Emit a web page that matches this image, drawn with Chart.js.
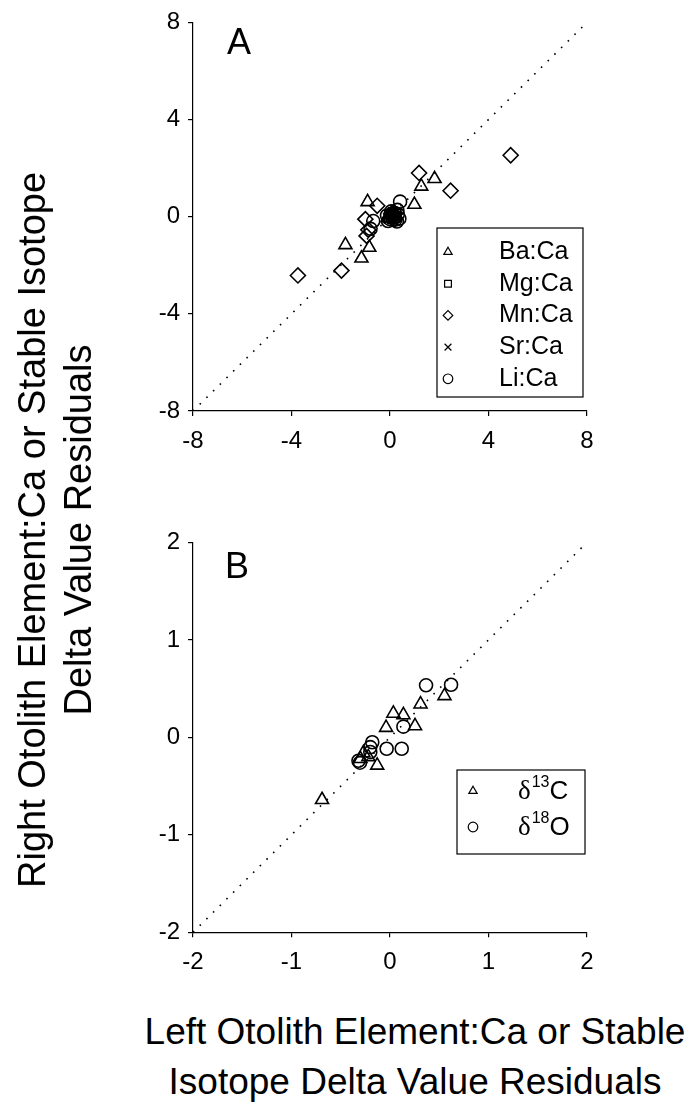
<!DOCTYPE html>
<html><head><meta charset="utf-8">
<script src="https://cdn.jsdelivr.net/npm/chart.js@4.4.1/dist/chart.umd.min.js"></script>
<style>
body{margin:0;background:#fff;width:690px;height:1106px;position:relative;overflow:hidden;font-family:"Liberation Sans",Arial,sans-serif;color:#000;}
#ca{position:absolute;left:0;top:0;}
#cb{position:absolute;left:0;top:520px;}
.yt{position:absolute;left:55px;top:530px;transform:translate(-50%,-50%) rotate(-90deg);white-space:nowrap;text-align:center;font-size:38px;line-height:46px;}
.xt{position:absolute;left:415px;top:1057px;transform:translate(-50%,-50%);text-align:center;font-size:37px;line-height:50px;white-space:nowrap;}
</style></head>
<body>
<canvas id="ca" width="690" height="470"></canvas>
<canvas id="cb" width="690" height="480"></canvas>
<div class="yt">Right Otolith Element:Ca or Stable Isotope<br>Delta Value Residuals</div>
<div class="xt">Left Otolith Element:Ca or Stable<br>Isotope Delta Value Residuals</div>
<script>
// ---- Panel A data (left residual, right residual) ----
const baCa = [[1.81,1.56],[1.27,1.25],[0.99,0.50],[-0.91,0.61],[-1.81,-1.16],[-0.84,-1.27],[-1.16,-1.71],[0.10,0.10],[-0.10,-0.05],[0.25,0.05]];
const mgCa = [[0.05,0.00],[0.15,0.05],[0.00,0.10],[0.20,-0.05],[0.10,-0.10],[-0.05,-0.05],[0.25,0.10],[0.12,0.18]];
const mnCa = [[4.90,2.53],[2.46,1.07],[1.18,1.80],[-0.52,0.45],[-1.00,-0.10],[-0.88,-0.54],[-0.95,-0.79],[-1.97,-2.22],[-3.74,-2.42],[0.05,0.12],[0.20,-0.08]];
const srCa = [[0.00,0.02],[0.10,0.10],[0.15,-0.08],[-0.08,-0.10],[0.05,-0.02],[0.22,0.05],[0.05,0.16],[-0.05,0.10],[0.30,-0.05]];
const liCa = [[0.41,0.62],[-0.68,-0.18],[-0.79,-0.50],[0.20,0.15],[0.30,0.28],[0.00,-0.10],[0.28,-0.20],[0.12,0.00],[-0.12,0.05],[0.38,-0.08],[0.32,0.10],[0.05,0.22],[-0.08,-0.18],[0.22,-0.12]];
// ---- Panel B data ----
const d13C = [[0.553,0.425],[0.31,0.34],[0.034,0.245],[0.136,0.23],[-0.04,0.10],[0.254,0.117],[-0.13,-0.287],[-0.27,-0.16],[-0.69,-0.64],[-0.22,-0.20],[-0.30,-0.22]];
const d18O = [[0.366,0.534],[0.62,0.54],[0.136,0.11],[-0.034,-0.117],[0.119,-0.117],[-0.18,-0.05],[-0.20,-0.10],[-0.32,-0.24],[-0.305,-0.26],[-0.20,-0.15]];
// ---- axes ----
const ticksA = [-8,-4,0,4,8];
const ticksB = [-2,-1,0,1,2];
const labelsA = ['Ba:Ca','Mg:Ca','Mn:Ca','Sr:Ca','Li:Ca'];
const labelsB = [['δ','13','C'],['δ','18','O']];

const FAM = '"Liberation Sans", Arial, sans-serif';
const pts = a => a.map(p => ({x:p[0], y:p[1]}));

function ds(label, data, style, r){
  return {type:'scatter', label, data:pts(data), pointStyle:style, pointRadius:r, pointHoverRadius:r,
    borderColor:'#000', backgroundColor:'rgba(0,0,0,0)', pointBorderWidth:1.6, borderWidth:1.6};
}
function oneToOne(t){
  return {type:'line', label:'1:1', data:[{x:t[0],y:t[0]},{x:t[t.length-1],y:t[t.length-1]}],
    borderColor:'#000', borderWidth:1.6, borderDash:[1.6,7.8], pointRadius:0, fill:false};
}
function axis(t, fitFn, pad){
  return {type:'linear', min:t[0], max:t[t.length-1],
    afterBuildTicks(s){ s.ticks = t.map(v=>({value:v})); },
    ticks:{color:'#000', font:{size:24, family:FAM}, padding:pad, callback:v=>String(v), maxRotation:0, autoSkip:false},
    grid:{display:true, drawOnChartArea:false, drawTicks:true, tickLength:5, color:'#000', lineWidth:1.2},
    border:{display:true, color:'#000', width:1.2},
    afterFit:fitFn};
}

const legendPlugin = {
  id:'boxLegend',
  afterDraw(chart, args, o){
    const ctx = chart.ctx;
    ctx.save();
    ctx.strokeStyle = '#000'; ctx.lineWidth = 1.2;
    ctx.strokeRect(o.box[0], o.box[1], o.box[2], o.box[3]);
    o.items.forEach((it, i) => {
      const y = o.y0 + i * o.dy;
      ctx.lineWidth = 1.2; ctx.strokeStyle = '#000'; ctx.fillStyle = 'rgba(0,0,0,0)';
      Chart.helpers.drawPoint(ctx, {pointStyle: it.style, radius: 4.8, rotation: 0, borderWidth: 1.2}, o.sx, y);
      ctx.fillStyle = '#000'; ctx.textBaseline = 'middle'; ctx.textAlign = 'left';
      if (Array.isArray(it.text)) {
        let x = o.tx;
        ctx.font = '27px "Liberation Serif", serif';
        ctx.fillText(it.text[0], x, y + 1); x += ctx.measureText(it.text[0]).width + 1;
        ctx.font = '16px ' + FAM;
        ctx.fillText(it.text[1], x, y - 8); x += ctx.measureText(it.text[1]).width;
        ctx.font = '26px ' + FAM;
        ctx.fillText(it.text[2], x, y + 1);
      } else {
        ctx.font = '25px ' + FAM;
        ctx.fillText(it.text, o.tx, y);
      }
    });
    // panel letter
    ctx.font = '36px ' + FAM; ctx.textAlign = 'center'; ctx.textBaseline = 'middle';
    ctx.fillText(o.letter, chart.chartArea.left + o.letterDx, chart.chartArea.top + o.letterDy);
    ctx.restore();
  }
};

function make(id, datasets, t, xH, padTop, legend){
  return new Chart(document.getElementById(id), {
    data:{datasets},
    options:{
      responsive:false, animation:false, events:[],
      layout:{padding:{left:0, right:103, top:padTop, bottom:0}},
      scales:{
        x: axis(t, s=>{ s.height = xH; }, 11),
        y: axis(t, s=>{ s.width = 193; }, 8)
      },
      plugins:{legend:{display:false}, tooltip:{enabled:false}, boxLegend:legend}
    },
    plugins:[legendPlugin]
  });
}

make('ca', [
  oneToOne(ticksA),
  ds(labelsA[0], baCa, 'triangle', 7.5),
  ds(labelsA[1], mgCa, 'rect', 6.5),
  ds(labelsA[2], mnCa, 'rectRot', 7.5),
  ds(labelsA[3], srCa, 'crossRot', 6),
  ds(labelsA[4], liCa, 'circle', 6.5)
], ticksA, 59, 17, {
  box:[437,228,146,169], sx:448, tx:499, y0:252, dy:31.7, letter:'A', letterDx:46, letterDy:22,
  items:[{style:'triangle',text:labelsA[0]},{style:'rect',text:labelsA[1]},{style:'rectRot',text:labelsA[2]},{style:'crossRot',text:labelsA[3]},{style:'circle',text:labelsA[4]}]
});

make('cb', [
  oneToOne(ticksB),
  ds('d13C', d13C, 'triangle', 7.5),
  ds('d18O', d18O, 'circle', 6.5)
], ticksB, 67.7, 19.3, {
  box:[457,250,128,84], sx:473, tx:518, y0:271, dy:36, letter:'B', letterDx:44, letterDy:26,
  items:[{style:'triangle',text:labelsB[0]},{style:'circle',text:labelsB[1]}]
});
</script>
</body></html>
